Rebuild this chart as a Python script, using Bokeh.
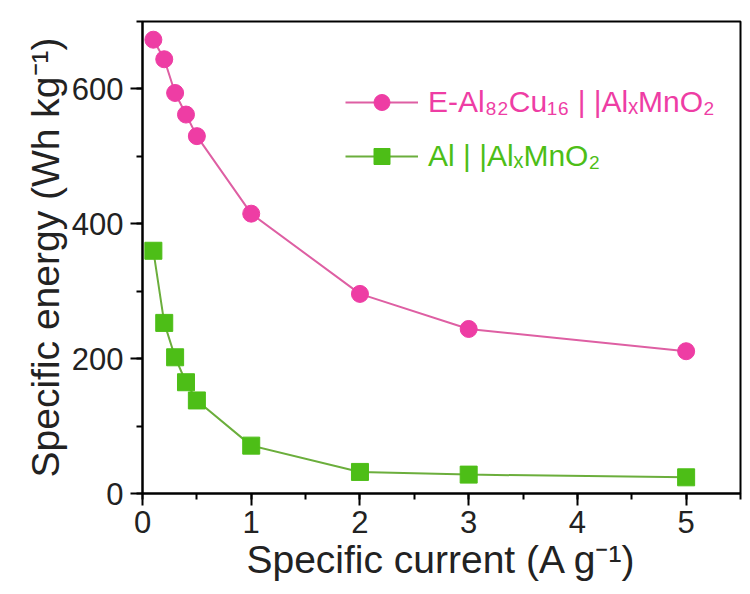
from bokeh.plotting import figure
from bokeh.models import Legend, LegendItem, SingleIntervalTicker, Range1d
from bokeh.embed import file_html
from bokeh.resources import INLINE

# data
current = [0.1, 0.2, 0.3, 0.4, 0.5, 1, 2, 3, 5]
energy_alcu = [673, 644, 594, 562, 530, 415, 296, 244, 211]
energy_al = [360, 253, 202, 165, 138, 71, 32, 28, 24]
label_alcu = "E-Al₈₂Cu₁₆ | |AlₓMnO₂"
label_al = "Al | |AlₓMnO₂"
x_title = "Specific current (A g⁻¹)"
y_title = "Specific energy (Wh kg⁻¹)"

PINK = "#EE3DA4"
PINK_LINE = "#DE5FA3"
GREEN = "#4DBE17"
GREEN_LINE = "#6BAE3C"
FONT = "Liberation Sans"

p = figure(width=750, height=594, output_backend="svg", toolbar_location=None,
           x_range=Range1d(0, 5.5), y_range=Range1d(0, 700),
           min_border_left=142, min_border_right=10, min_border_top=21,
           min_border_bottom=101)
p.background_fill_color = "white"
p.border_fill_color = "white"
p.outline_line_color = "black"
p.outline_line_width = 2
p.grid.visible = False

p.xaxis.ticker = SingleIntervalTicker(interval=1, num_minor_ticks=2)
p.yaxis.ticker = SingleIntervalTicker(interval=200, num_minor_ticks=2)
for ax in (p.xaxis, p.yaxis):
    ax.axis_line_width = 2
    ax.axis_line_color = "black"
    ax.major_tick_line_width = 2
    ax.minor_tick_line_width = 2
    ax.major_tick_in = 0
    ax.major_tick_out = 12
    ax.minor_tick_in = 0
    ax.minor_tick_out = 6
    ax.major_label_text_font = FONT
    ax.major_label_text_font_size = "31px"
    ax.major_label_text_color = "#222222"
    ax.axis_label_text_font = FONT
    ax.axis_label_text_font_size = "39px"
    ax.axis_label_text_font_style = "normal"
    ax.axis_label_text_color = "#222222"
    ax.major_label_standoff = 5
    ax.axis_label_standoff = 2
p.yaxis.major_label_standoff = 7
p.xaxis.axis_label = x_title
p.yaxis.axis_label = y_title

l1 = p.line(current, energy_alcu, line_color=PINK_LINE, line_width=2)
s1 = p.scatter(current, energy_alcu, marker="circle", size=17, fill_color=PINK, line_color=PINK)
l2 = p.line(current, energy_al, line_color=GREEN_LINE, line_width=2)
s2 = p.scatter(current, energy_al, marker="square", size=17, fill_color=GREEN, line_color=GREEN)

def make_legend(label, renderers, color, loc):
    leg = Legend(items=[LegendItem(label=label, renderers=renderers)], location=loc)
    leg.glyph_width = 73
    leg.glyph_height = 40
    leg.label_height = 40
    leg.label_standoff = 10
    leg.padding = 0
    leg.margin = 0
    leg.spacing = 0
    leg.border_line_alpha = 0
    leg.background_fill_alpha = 0
    leg.label_text_font = FONT
    leg.label_text_font_size = "30px"
    leg.label_text_color = color
    leg.label_text_baseline = "middle"
    return leg

p.add_layout(make_legend(label_alcu, [l1, s1], PINK, (203, 371)))
p.add_layout(make_legend(label_al, [l2, s2], GREEN, (203, 317)))

open("out.html", "w").write(file_html(p, INLINE))
